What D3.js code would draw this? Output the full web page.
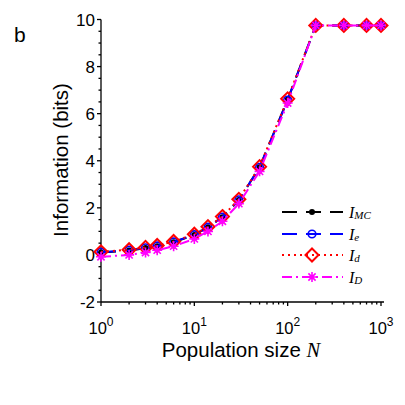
<!DOCTYPE html>
<html>
<head>
<meta charset="utf-8">
<script src="https://cdn.jsdelivr.net/npm/d3@7"></script>
<style>
  body { margin: 0; background: #fff; }
  text { font-family: "Liberation Sans", Arial, sans-serif; }
</style>
</head>
<body>
<svg id="chart" width="405" height="405"></svg>
<script>
const popSize = [1, 2, 3, 4, 6, 10, 14, 20, 30, 50, 100, 200, 400, 700, 1000];
const infoMC = [0.10, 0.19, 0.29, 0.37, 0.54, 0.85, 1.17, 1.60, 2.33, 3.72, 6.60, 9.74, 9.74, 9.74, 9.74];
const infoE = [0.11, 0.20, 0.30, 0.38, 0.55, 0.86, 1.18, 1.61, 2.34, 3.72, 6.58, 9.74, 9.74, 9.74, 9.74];
const infoD = [0.13, 0.22, 0.32, 0.40, 0.57, 0.88, 1.20, 1.63, 2.36, 3.75, 6.63, 9.75, 9.75, 9.75, 9.75];
const infoBigD = [-0.08, 0.00, 0.10, 0.20, 0.37, 0.68, 1.00, 1.43, 2.18, 3.55, 6.45, 9.75, 9.75, 9.75, 9.75];
const yTicks = [-2, 0, 2, 4, 6, 8, 10];
const xTicks = [1, 10, 100, 1000];

const svg = d3.select("#chart");

const x = d3.scaleLog().domain([1, 1000]).range([101, 381]);
const y = d3.scaleLinear().domain([-2, 10]).range([302, 19.5]);

// axes lines
const axis = svg.append("g").attr("stroke", "#000").attr("stroke-width", 1.3);
axis.append("line").attr("x1", x(1)).attr("x2", 384).attr("y1", y(-2)).attr("y2", y(-2));
axis.append("line").attr("x1", x(1)).attr("x2", x(1)).attr("y1", y(-2)).attr("y2", y(10));

// y ticks (major + minor every 0.5)
d3.range(-2, 10.01, 0.5).forEach(v => {
    const major = Math.abs(v % 2) < 1e-6;
    axis.append("line")
        .attr("x1", x(1)).attr("x2", x(1) - (major ? 4 : 2.5))
        .attr("y1", y(v)).attr("y2", y(v));
});
// x ticks (decades + minors)
[1, 10, 100].forEach(d => {
    for (let k = 1; k <= 9; k++) {
        const v = d * k;
        axis.append("line")
            .attr("x1", x(v)).attr("x2", x(v))
            .attr("y1", y(-2)).attr("y2", y(-2) + (k === 1 ? 4 : 2.5));
    }
});
axis.append("line").attr("x1", x(1000)).attr("x2", x(1000))
    .attr("y1", y(-2)).attr("y2", y(-2) + 4);

// tick labels
svg.append("g").selectAll("text").data(yTicks).enter().append("text")
    .attr("x", 95).attr("y", d => y(d) + 6)
    .attr("text-anchor", "end").attr("font-size", 17)
    .text(d => d);

const xl = svg.append("g").selectAll("text").data(xTicks).enter().append("text")
    .attr("x", d => x(d)).attr("y", 334)
    .attr("text-anchor", "middle").attr("font-size", 16.5);
xl.append("tspan").text("10");
xl.append("tspan").attr("font-size", 12).attr("dy", -8).text(d => Math.round(Math.log10(d)));

// axis titles
const xt = svg.append("text").attr("x", 241).attr("y", 357)
    .attr("text-anchor", "middle").attr("font-size", 20.5);
xt.append("tspan").text("Population size ");
xt.append("tspan").attr("font-family", "Liberation Serif, Times New Roman, serif")
    .attr("font-style", "italic").text("N");

svg.append("text").attr("transform", "translate(68,160) rotate(-90)")
    .attr("text-anchor", "middle").attr("font-size", 20.5)
    .text("Information (bits)");

svg.append("text").attr("x", 14).attr("y", 42).attr("font-size", 21).text("b");

// series
const series = [
    { name: "MC", vals: infoMC, color: "#000", dash: "15,9", marker: "dot" },
    { name: "e", vals: infoE, color: "#0000ff", dash: "15,9", marker: "circle" },
    { name: "d", vals: infoD, color: "#ff0000", dash: "2,4", marker: "diamond" },
    { name: "D", vals: infoBigD, color: "#ff00ff", dash: "10,4,2,4", marker: "star" }
];

function drawMarker(g, type, color, cx, cy) {
    if (type === "dot") {
        g.append("circle").attr("cx", cx).attr("cy", cy).attr("r", 3).attr("fill", color);
    } else if (type === "circle") {
        g.append("circle").attr("cx", cx).attr("cy", cy).attr("r", 3.8)
            .attr("fill", "none").attr("stroke", color).attr("stroke-width", 1.6);
    } else if (type === "diamond") {
        const s = 6.5;
        g.append("path")
            .attr("d", `M${cx},${cy - s}L${cx + s},${cy}L${cx},${cy + s}L${cx - s},${cy}Z`)
            .attr("fill", "none").attr("stroke", color).attr("stroke-width", 2);
    } else {
        const s = 5, t = 3.6;
        g.append("path")
            .attr("d", `M${cx - s},${cy}L${cx + s},${cy}M${cx},${cy - s}L${cx},${cy + s}` +
                `M${cx - t},${cy - t}L${cx + t},${cy + t}M${cx - t},${cy + t}L${cx + t},${cy - t}`)
            .attr("stroke", color).attr("stroke-width", 1.6);
    }
}

const line = d3.line().x(d => x(d[0])).y(d => y(d[1]));

series.forEach(s => {
    const pts = popSize.map((n, i) => [n, s.vals[i]]);
    const g = svg.append("g");
    g.append("path").datum(pts).attr("d", line)
        .attr("fill", "none").attr("stroke", s.color).attr("stroke-width", 2)
        .attr("stroke-dasharray", s.dash);
    pts.forEach(p => drawMarker(g, s.marker, s.color, x(p[0]), y(p[1])));
});

// legend
const legY = [212, 234, 255, 277];
series.forEach((s, i) => {
    const g = svg.append("g");
    g.append("line").attr("x1", 282).attr("x2", 343).attr("y1", legY[i]).attr("y2", legY[i])
        .attr("stroke", s.color).attr("stroke-width", 2).attr("stroke-dasharray", s.dash);
    drawMarker(g, s.marker, s.color, 312, legY[i]);
    const t = g.append("text").attr("x", 349).attr("y", legY[i] + 5.5)
        .attr("font-family", "Liberation Serif, Times New Roman, serif")
        .attr("font-style", "italic").attr("font-size", 16);
    t.append("tspan").attr("font-family", "Liberation Serif, Times New Roman, serif").text("I");
    t.append("tspan").attr("font-family", "Liberation Serif, Times New Roman, serif")
        .attr("font-size", 11).attr("dy", 1).text(s.name);
});
</script>
</body>
</html>
